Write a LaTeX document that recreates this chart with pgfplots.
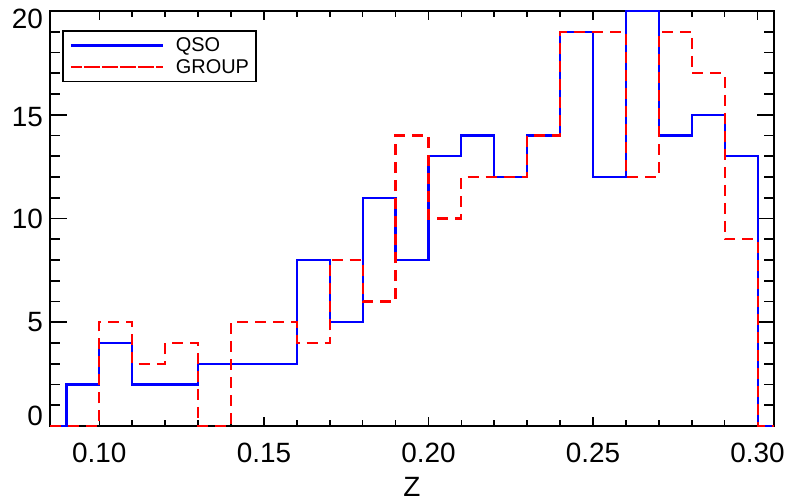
\documentclass[border=0pt]{standalone}
\usepackage{pgfplots}
\pgfplotsset{compat=1.18}
\usepackage{fontspec}
\setmainfont{Liberation Sans}
\begin{document}
\begin{tikzpicture}
\pgfplotsset{
  base/.style={
    width=724bp, height=415bp, scale only axis,
    xmin=0.085, xmax=0.305, ymin=0, ymax=20,
    axis line style={line width=1.7bp, black},
    tick style={line width=1.7bp, black},
    tick align=inside,
  }
}
\begin{axis}[base,
  xtick={0.10,0.15,0.20,0.25,0.30},
  xticklabels={0.10,0.15,0.20,0.25,0.30},
  minor x tick num=4,
  ytick=\empty,
  major tick length=9bp, minor tick length=6bp,
  xticklabel style={font=\fontsize{28}{30}\selectfont, inner sep=0pt, anchor=north, yshift=-17bp},
  xlabel={Z},
  xlabel style={font=\fontsize{28}{30}\selectfont, inner sep=0pt, anchor=center, at={(axis description cs:0.5,0)}, yshift=-61bp},
]
\end{axis}
\begin{axis}[base, name=main,
  clip=false,
  xtick=\empty,
  ytick={0,5,10,15,20},
  yticklabels={\raisebox{10bp}[\height][\depth]{0},5,10,\raisebox{-2bp}[\height][\depth]{15},\raisebox{-8bp}[\height][\depth]{20}},
  minor y tick num=4,
  major tick length=17bp, minor tick length=10bp,
  yticklabel style={font=\fontsize{28}{30}\selectfont, inner sep=0pt, anchor=east, xshift=-7bp},
  legend cell align=left,
  legend style={at={(0.0166,0.954)}, anchor=north west, draw=black, line width=1.5bp, fill=white,
    font=\fontsize{20}{22}\selectfont, inner xsep=7bp, inner ysep=7bp, row sep=6bp, column sep=12bp,
    nodes={inner sep=0pt, anchor=west}},
  legend image code/.code={\path (0bp,0bp) -- (92bp,0bp); \draw[#1] (13bp,0bp) -- (92bp,0bp);},
]
\addplot[blue, line width=2.1bp, const plot] coordinates {
(0.085,0) (0.09,2) (0.10,4) (0.11,2) (0.12,2) (0.13,3) (0.14,3) (0.15,3) (0.16,8) (0.17,5)
(0.18,11) (0.19,8) (0.20,13) (0.21,14) (0.22,12) (0.23,14) (0.24,19) (0.25,12) (0.26,20)
(0.27,14) (0.28,15) (0.29,13) (0.30,0) (0.305,0)};
\addplot[red, line width=2.1bp, dash pattern=on 11bp off 7bp, const plot] coordinates {
(0.085,0) (0.09,0) (0.10,5) (0.11,3) (0.12,4) (0.13,0) (0.14,5) (0.15,5) (0.16,4) (0.17,8)
(0.18,6) (0.19,14) (0.20,10) (0.21,12) (0.22,12) (0.23,14) (0.24,19) (0.25,19) (0.26,12)
(0.27,19) (0.28,17) (0.29,9) (0.30,0) (0.305,0)};
\legend{QSO,GROUP}
\end{axis}
\path (main.south west) ++(-50bp,-75bp) coordinate (bbsw);
\path (main.north east) ++(16bp,11bp) coordinate (bbne);
\useasboundingbox (bbsw) rectangle (bbne);
\end{tikzpicture}
\end{document}
